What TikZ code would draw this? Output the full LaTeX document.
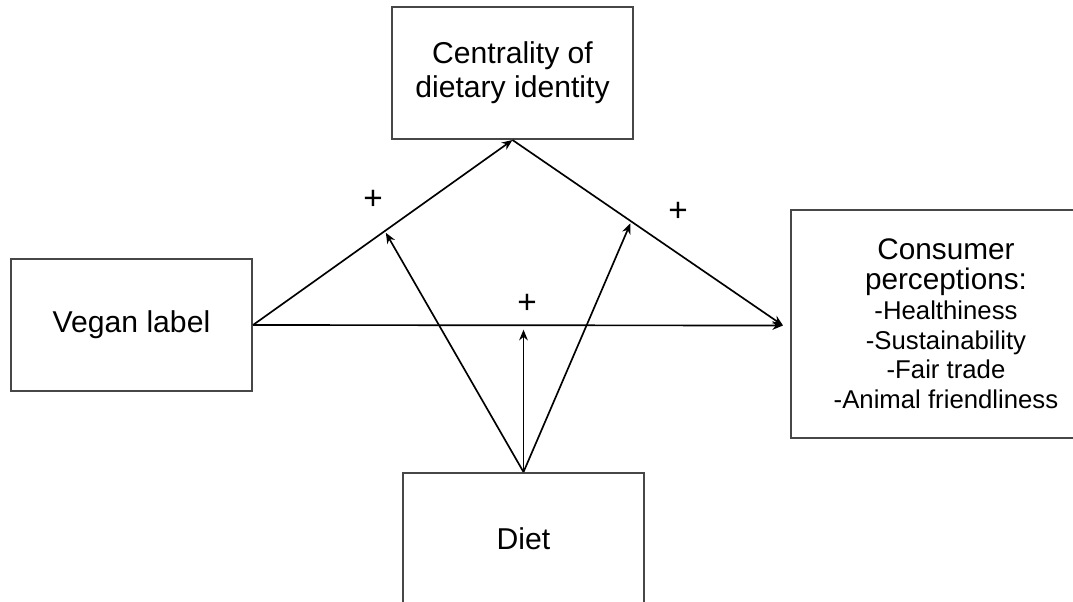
\documentclass[tikz,border=0pt]{standalone}
\usepackage{fontspec}
\setmainfont{Liberation Sans}
\usetikzlibrary{arrows.meta,calc}
\begin{document}
\begin{tikzpicture}[x=0.75pt,y=-0.75pt,
  box/.style={draw=black!72,line width=1.5pt,rectangle,align=center,inner sep=0pt,
    font=\fontsize{22.6}{25.5}\selectfont},
  conn/.style={line width=1.25pt,draw=black,-{Stealth[length=8pt,width=6.5pt]}},
  sign/.style={font=\fontsize{25}{25}\selectfont,inner sep=0pt}]
\useasboundingbox (0,0) rectangle (1073,601);
\node[box,minimum width=180.75pt,minimum height=99pt] (cent) at (512.5,73) {Centrality of\\dietary identity};
\node[box,minimum width=180.75pt,minimum height=99pt] (vegan) at (131.5,325) {Vegan label};
\node[box,minimum width=232.5pt,minimum height=171pt,text width=232.5pt,align=flush center,
      font=\fontsize{22.3}{22.3}\selectfont] (cons) at (946,324)
  {Consumer\\perceptions:\\\fontsize{19.3}{22.3}\selectfont -Healthiness\\-Sustainability\\-Fair trade\\-Animal friendliness};
\node[box,minimum width=180.75pt,minimum height=99pt] (diet) at (523.5,539) {Diet};
\coordinate (cin) at (783,325.5);
\draw[conn] (vegan.east) -- (cent.south);
\draw[conn] (cent.south) -- (cin);
\draw[conn] (vegan.east) -- (cin);
\coordinate (pl) at ($(vegan.east)!0.508!(cent.south)$);
\coordinate (pr) at ($(cent.south)!0.439!(cin)$);
\coordinate (pm) at (diet.north |- vegan.east);
\draw[conn,shorten >=1.5pt] (diet.north) -- (pl);
\draw[conn,shorten >=3.5pt] (diet.north) -- (pm);
\draw[conn,shorten >=1.5pt] (diet.north) -- (pr);
\node[sign] (s1) at (373,200) {+};
\node[sign] (s2) at (678,212) {+};
\node[sign] (s3) at (527,304) {+};
\end{tikzpicture}
\end{document}
